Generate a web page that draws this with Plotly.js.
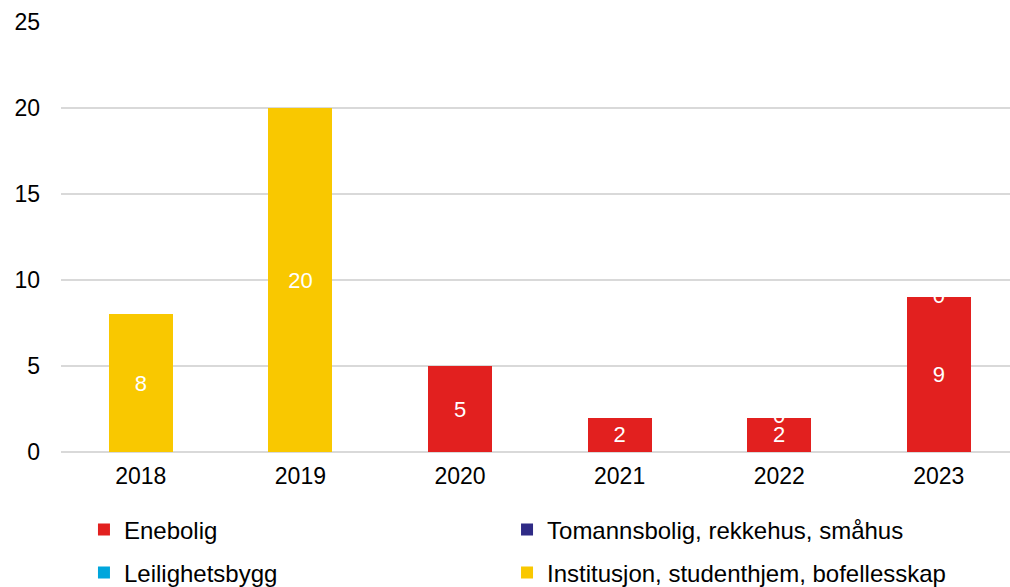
<!DOCTYPE html>
<html><head><meta charset="utf-8">
<script src="https://cdn.plot.ly/plotly-3.0.1.min.js"></script>
<style>html,body{margin:0;padding:0;overflow:hidden;background:#fff;width:1010px;height:587px}#chart{width:1010px;height:610px}</style>
</head><body><div id="chart"></div>
<script>
const years = ['2018','2019','2020','2021','2022','2023'];
const enebolig = [null, null, 5, 2, 2, 9];
const tomannsbolig = [null, null, null, null, 0, 0];
const leilighetsbygg = [null, null, null, null, null, null];
const institusjon = [8, 20, null, null, null, null];
const seriesNames = ['Enebolig', 'Tomannsbolig, rekkehus, småhus', 'Leilighetsbygg', 'Institusjon, studenthjem, bofellesskap'];
const colors = ['#E2201F', '#2F2B86', '#00A6DC', '#F9C800'];

const font = 'Liberation Sans, Arial, sans-serif';
const series = [enebolig, tomannsbolig, leilighetsbygg, institusjon];
const legendOf = ['legend', 'legend2', 'legend3', 'legend4'];
const traces = series.map((vals, i) => ({
  type: 'bar', name: seriesNames[i], x: years, y: vals,
  marker: {color: colors[i]}, legend: legendOf[i],
  texttemplate: '%{y}', textposition: 'inside', insidetextanchor: 'middle', textangle: 0,
  textfont: {color: '#ffffff', size: 22, family: font},
  constraintext: 'none', hoverinfo: 'none'
}));
// zero-valued segment labels sit at top of the stack
const zeroX = [], zeroY = [], zeroT = [];
years.forEach((yr, j) => {
  if (tomannsbolig[j] === 0) {
    zeroX.push(yr);
    zeroY.push(enebolig[j] || 0);
    zeroT.push(String(tomannsbolig[j]));
  }
});
traces.push({type: 'scatter', mode: 'text', x: zeroX, y: zeroY, text: zeroT,
  textposition: 'middle center', textfont: {color: '#ffffff', size: 22, family: font},
  showlegend: false, hoverinfo: 'none', cliponaxis: false});

const H = 610;
const legBase = {orientation: 'h', xanchor: 'left', yanchor: 'middle',
  font: {size: 24, color: '#000', family: font}, itemwidth: 30, bgcolor: 'rgba(0,0,0,0)'};
const col1 = 0.0242, col2 = 0.470;
const row1 = (452 - 530) / 430, row2 = (452 - 573) / 430;
const layout = {
  width: 1010, height: H,
  margin: {l: 61, r: 0, t: 22, b: H - 452, autoexpand: false},
  barmode: 'stack', bargap: 0.6,
  paper_bgcolor: '#fff', plot_bgcolor: '#fff',
  font: {family: font, size: 23, color: '#000'},
  showlegend: true,
  xaxis: {type: 'category', range: [-0.5, 5.446], showgrid: false, showline: false,
    ticks: '', tickfont: {size: 23, color: '#000'}, ticklabelstandoff: 8, fixedrange: true},
  yaxis: {range: [0, 25], dtick: 5, tick0: 0, showgrid: true, gridcolor: '#D9D9D9', gridwidth: 1.5,
    zeroline: true, zerolinecolor: '#D9D9D9', zerolinewidth: 1.5, showline: false,
    ticks: '', tickfont: {size: 23, color: '#000'}, ticklabelstandoff: 20, fixedrange: true},
  legend: Object.assign({}, legBase, {x: col1, y: row1}),
  legend2: Object.assign({}, legBase, {x: col2, y: row1}),
  legend3: Object.assign({}, legBase, {x: col1, y: row2}),
  legend4: Object.assign({}, legBase, {x: col2, y: row2})
};
Plotly.newPlot('chart', traces, layout, {displayModeBar: false, staticPlot: true});
</script></body></html>
